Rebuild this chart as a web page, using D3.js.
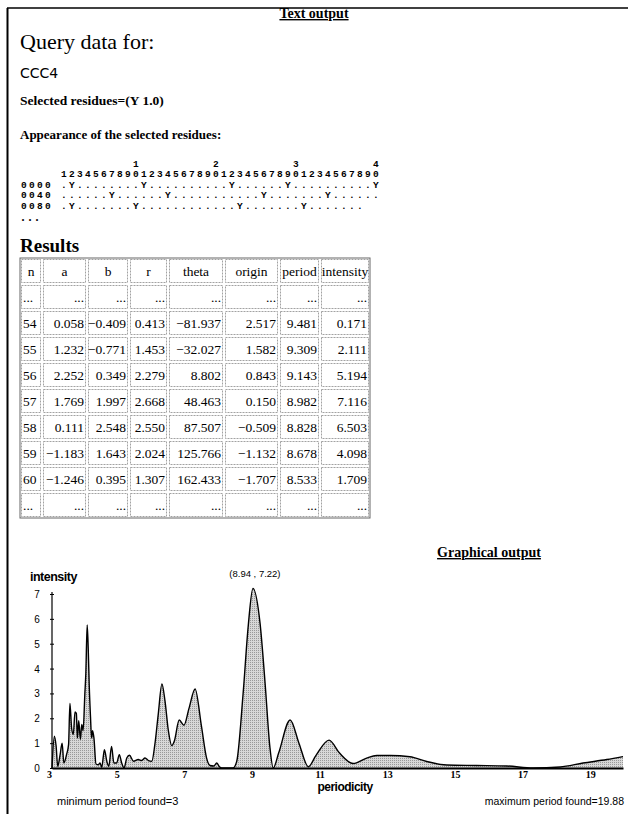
<!DOCTYPE html>
<html><head><meta charset="utf-8">
<script src="https://cdn.jsdelivr.net/npm/d3@7"></script>
<style>body{margin:0;background:#fff;overflow:hidden}</style>
</head><body>
<svg id="c" width="628" height="814"></svg>
<script>
// ---------- data ----------
const periods = [3.00,3.07,3.12,3.17,3.24,3.30,3.35,3.43,3.49,3.53,3.58,3.63,3.68,3.72,3.75,3.79,3.84,3.88,3.92,3.97,4.00,4.04,4.07,4.10,4.14,4.17,4.20,4.24,4.30,4.37,4.42,4.47,4.55,4.62,4.68,4.76,4.83,4.91,4.99,5.06,5.13,5.21,5.29,5.41,5.55,5.65,5.75,5.85,5.95,6.04,6.14,6.25,6.34,6.44,6.54,6.62,6.76,6.90,7.05,7.23,7.42,7.57,7.67,7.78,7.87,7.95,8.02,8.35,8.46,8.65,8.80,8.94,9.15,9.30,9.44,9.54,9.70,10.04,10.30,10.58,10.80,11.19,11.50,11.90,12.30,12.60,13.00,13.58,14.08,14.67,15.55,16.44,17.22,18.02,18.70,19.40,19.88];
const intensities = [0.0,1.28,0.9,0.07,0.54,1.0,0.2,0.54,0.94,2.6,1.6,1.35,2.25,2.2,1.2,1.9,1.15,1.75,1.5,2.95,3.8,5.75,4.85,3.36,2.0,1.2,1.5,1.2,0.16,0.13,0.2,0.03,0.74,0.27,0.07,0.87,0.2,0.2,0.54,0.2,0.0,0.4,0.51,0.27,0.34,0.3,0.4,0.3,0.27,0.94,2.15,3.38,2.7,1.5,0.9,1.1,1.93,1.72,2.4,3.18,1.66,0.4,0.1,0.08,0.2,0.05,0.0,0.0,0.26,3.0,5.7,7.22,5.83,3.4,0.86,0.0,0.6,1.93,1.0,0.05,0.5,1.12,0.6,0.18,0.4,0.5,0.5,0.45,0.26,0.12,0.1,0.08,0.0,0.04,0.2,0.34,0.46];
const xTicks = [3,5,7,9,11,13,15,17,19];
const yTicks = [0,1,2,3,4,5,6,7];
const peakLabel = "(8.94 , 7.22)";

const tableHeaders = ["n","a","b","r","theta","origin","period","intensity"];
const colN = ["...","54","55","56","57","58","59","60","..."];
const colA = ["...","0.058","1.232","2.252","1.769","0.111","\u22121.183","\u22121.246","..."];
const colB = ["...","\u22120.409","\u22120.771","0.349","1.997","2.548","1.643","0.395","..."];
const colR = ["...","0.413","1.453","2.279","2.668","2.550","2.024","1.307","..."];
const colTheta = ["...","\u221281.937","\u221232.027","8.802","48.463","87.507","125.766","162.433","..."];
const colOrigin = ["...","2.517","1.582","0.843","0.150","\u22120.509","\u22121.132","\u22121.707","..."];
const colPeriod = ["...","9.481","9.309","9.143","8.982","8.828","8.678","8.533","..."];
const colIntensity = ["...","0.171","2.111","5.194","7.116","6.503","4.098","1.709","..."];

const seqLines = [
  "              1         2         3         4",
  "     1234567890123456789012345678901234567890",
  "0000 .Y........Y..........Y......Y..........Y",
  "0040 ......Y......Y...........Y.......Y......",
  "0080 .Y.......Y............Y.......Y......."
];

// ---------- drawing ----------
const svg = d3.select("#c");
const serif = "'Liberation Serif','Times New Roman',serif";
const sans = "'Liberation Sans',Arial,sans-serif";

// page frame
svg.append("line").attr("x1",7).attr("x2",628).attr("y1",8).attr("y2",8).attr("stroke","#000").attr("stroke-width",1.5);
svg.append("line").attr("x1",7.5).attr("x2",7.5).attr("y1",8).attr("y2",814).attr("stroke","#000").attr("stroke-width",2);

function txt(x,y,s,opt={}){
  return svg.append("text").attr("x",x).attr("y",y).text(s)
    .attr("font-family",opt.ff||serif).attr("font-size",opt.fs||13)
    .attr("font-weight",opt.fw||"normal").attr("text-anchor",opt.anchor||"start")
    .attr("text-decoration",opt.td||null).attr("fill","#000");
}

txt(314,18,"Text output",{fw:"bold",fs:14,anchor:"middle",td:"underline"});
txt(20,49,"Query data for:",{fs:22});
txt(20,78,"CCC4",{ff:"'DejaVu Sans',sans-serif",fs:14});
txt(20,105,"Selected residues=(Y 1.0)",{fw:"bold",fs:13.5});
txt(20,139,"Appearance of the selected residues:",{fw:"bold",fs:13});

const seqY = [166.5,177,187.5,198,208.5];
seqLines.forEach((s,i)=>{
  svg.append("text").attr("x",21).attr("y",seqY[i]).text(s)
    .attr("xml:space","preserve").style("white-space","pre")
    .attr("font-family","'Liberation Mono','Courier New',monospace")
    .attr("font-size",9.5).attr("font-weight","bold").attr("letter-spacing",2.3);
});
txt(21,224,"\u00b7   \u00b7   \u00b7",{fw:"bold",fs:12});

txt(20,252,"Results",{fw:"bold",fs:19});

// table
const cols = [colN,colA,colB,colR,colTheta,colOrigin,colPeriod,colIntensity];
const colEdges = [20,42,87,129,168,224,279,320,370];
const tTop = 258, rowH = 26;
const nRows = colN.length + 1;
const tbl = svg.append("g");
tbl.append("rect").attr("x",colEdges[0]).attr("y",tTop).attr("width",colEdges[8]-colEdges[0]).attr("height",nRows*rowH)
  .attr("fill","none").attr("stroke","#666").attr("stroke-width",1);
for(let r=0;r<nRows;r++){
  for(let c=0;c<8;c++){
    tbl.append("rect").attr("x",colEdges[c]+1.5).attr("y",tTop+r*rowH+1.5)
      .attr("width",colEdges[c+1]-colEdges[c]-3).attr("height",rowH-3)
      .attr("fill","none").attr("stroke","#8a8a8a").attr("stroke-width",0.8).attr("stroke-dasharray","2,1");
    let s, anchor, x;
    const yb = tTop + r*rowH + rowH/2 + 4.5;
    if(r===0){ s = tableHeaders[c]; anchor="middle"; x=(colEdges[c]+colEdges[c+1])/2; }
    else { s = cols[c][r-1]; if(c===0){anchor="start"; x=colEdges[c]+3;} else {anchor="end"; x=colEdges[c+1]-3;} }
    tbl.append("text").attr("x",x).attr("y",yb).text(s).attr("text-anchor",anchor)
      .attr("font-family",serif).attr("font-size",13.5).attr("fill","#000");
  }
}

txt(489,557,"Graphical output",{fw:"bold",fs:14,anchor:"middle",td:"underline"});

// chart
const x = d3.scaleLinear().domain([3,19.88]).range([52,623]);
const y = d3.scaleLinear().domain([0,7]).range([768,594]);

const defs = svg.append("defs");
const pat = defs.append("pattern").attr("id","stip").attr("width",2).attr("height",2).attr("patternUnits","userSpaceOnUse");
pat.append("rect").attr("width",2).attr("height",2).attr("fill","#d8d8d8");
pat.append("rect").attr("width",1).attr("height",1).attr("fill","#999");

const pts = periods.map((p,i)=>[p,intensities[i]]);
const area = d3.area().x(d=>x(d[0])).y0(y(0)).y1(d=>y(d[1])).curve(d3.curveMonotoneX);
const line = d3.line().x(d=>x(d[0])).y(d=>y(d[1])).curve(d3.curveMonotoneX);
svg.append("path").datum(pts).attr("d",area).attr("fill","url(#stip)");
svg.append("path").datum(pts).attr("d",line).attr("fill","none").attr("stroke","#000").attr("stroke-width",1.4);

// y axis
const yAxis = d3.axisLeft(y).tickValues(yTicks).tickSize(2).tickFormat(d3.format("d"));
const gy = svg.append("g").attr("transform",`translate(${x(3)},0)`).call(yAxis);
gy.select(".domain").attr("d",`M0,${y(0)}V592`).attr("stroke","#000").attr("stroke-width",1.2);
gy.selectAll(".tick line").attr("stroke","#000").attr("x2",-2).attr("x1",2);
gy.selectAll(".tick text").attr("x",-15).attr("dy","0.35em").attr("text-anchor","middle")
  .attr("font-family",sans).attr("font-size",10).attr("fill","#000");

// x axis
const xAxis = d3.axisBottom(x).tickValues(xTicks).tickSize(0).tickFormat(d3.format("d"));
const gx = svg.append("g").attr("transform",`translate(0,${y(0)})`).call(xAxis);
gx.select(".domain").attr("stroke","#000").attr("stroke-width",2);
gx.selectAll(".tick text").attr("y",3).attr("dx",-3).attr("dy","0.71em")
  .attr("font-family",serif).attr("font-weight","bold").attr("font-size",10).attr("fill","#000");

txt(30,581,"intensity",{ff:sans,fs:12.5,fw:"bold"}).attr("letter-spacing",-0.5);
txt(x(8.94)+2,577,peakLabel,{ff:sans,fs:9.5,anchor:"middle"});
txt(345,791,"periodicity",{ff:sans,fs:12,fw:"bold",anchor:"middle"}).attr("letter-spacing",-0.5);
txt(57,805,"minimum period found=3",{ff:sans,fs:11});
txt(624,805,"maximum period found=19.88",{ff:sans,fs:10.5,anchor:"end"});
</script>
</body></html>
